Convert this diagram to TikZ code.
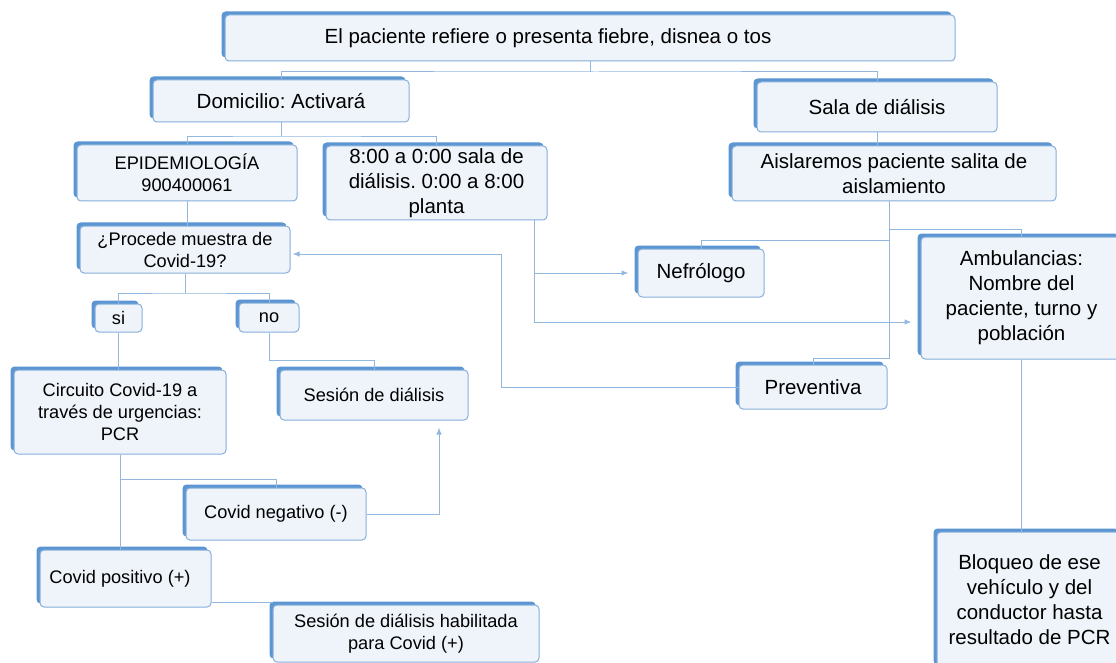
\documentclass[tikz,border=0pt]{standalone}
\usepackage{fontspec}
\setmainfont{Liberation Sans}
\frenchspacing
\usetikzlibrary{shadows,arrows.meta,calc}
\definecolor{linec}{HTML}{92B8E0}
\definecolor{shadowc}{HTML}{5B96D2}
\definecolor{borderc}{HTML}{86AEDB}
\definecolor{fillc}{HTML}{EEF4FA}
\begin{document}
\frenchspacing
\begin{tikzpicture}[x=1pt,y=-1pt,
 box/.style={draw=borderc, fill=fillc, line width=1pt, rounded corners=4pt, align=center, inner sep=0pt,
   general shadow={shadow xshift=-3.5pt, shadow yshift=3.5pt, fill=shadowc}},
 big/.style={font=\fontsize{20.5}{25}\selectfont},
 sm/.style={font=\fontsize{18.2}{22}\selectfont},
 conn/.style={draw=linec, line width=1pt},
 arr/.style={conn, -{Latex[length=7pt,width=5.5pt]}}]
\useasboundingbox (0,0) rectangle (1116,663);
\fill[white] (0,0) rectangle (1116,663);

\node[box,big,minimum width=730pt,minimum height=46pt] (top) at (590,38) {\hspace*{-84pt}El paciente refiere o presenta fiebre, disnea o tos};
\node[box,big,minimum width=256pt,minimum height=42pt] (dom) at (281,101) {Domicilio: Activará};
\node[box,big,minimum width=240pt,minimum height=50pt] (sala) at (877,107) {Sala de diálisis};
\node[box,sm,minimum width=220pt,minimum height=56pt] (epi) at (187,173) {EPIDEMIOLOGÍA\\900400061};
\node[box,big,minimum width=221pt,minimum height=74pt] (t8) at (436.5,183) {8:00 a 0:00 sala de\\diálisis. 0:00 a 8:00\\planta};
\node[box,sm,minimum width=210pt,minimum height=47pt] (proc) at (185,249.5) {¿Procede muestra de\\Covid-19?};
\node[box,sm,minimum width=47pt,minimum height=28pt] (si) at (118.5,318) {si};
\node[box,sm,minimum width=60pt,minimum height=29pt] (no) at (269,317.5) {no};
\node[box,sm,minimum width=212pt,minimum height=84pt] (circ) at (120,412) {Circuito Covid-19 a\\través de urgencias:\\PCR};
\node[box,sm,minimum width=188pt,minimum height=50pt] (ses) at (374,395) {Sesión de diálisis};
\node[box,sm,minimum width=180pt,minimum height=52pt] (neg) at (276,514) {Covid negativo (-)};
\node[box,sm,minimum width=171pt,minimum height=57pt] (pos) at (125.5,578.5) {\hspace*{-11pt}Covid positivo (+)};
\node[box,sm,minimum width=266pt,minimum height=57pt] (hab) at (406,633.5) {Sesión de diálisis habilitada\\para Covid (+)};
\node[box,big,minimum width=126pt,minimum height=48pt] (nef) at (701,273) {Nefrólogo};
\node[box,big,minimum width=324pt,minimum height=55pt] (aisl) at (894,173.5) {Aislaremos paciente salita de\\aislamiento};
\node[box,big,minimum width=201pt,minimum height=122pt] (amb) at (1021.5,298) {Ambulancias:\\Nombre del\\paciente, turno y\\población};
\node[box,big,minimum width=148pt,minimum height=44pt] (prev) at (813,387) {Preventiva};
\node[box,big,minimum width=185pt,minimum height=136pt] (bloq) at (1029.5,600) {Bloqueo de ese\\vehículo y del\\conductor hasta\\resultado de PCR};

% connectors
\coordinate (r1) at (596,72);
\draw[conn] (top.south) -- (top.south |- r1);
\draw[conn] (dom.north) |- (r1) -| (sala.north);
\coordinate (r2) at (281,137);
\draw[conn] (dom.south) -- (r2);
\draw[conn] (epi.north) |- (r2) -| (t8.north);
\draw[conn] (epi.south) -- (epi.south |- proc.north);
\coordinate (r3) at (185,293);
\draw[conn] (proc.south) -- (r3);
\draw[conn] (si.north) |- (r3) -| (no.north);
\draw[conn] (si.south) -- (si.south |- circ.north);
\coordinate (r4) at (269,360);
\draw[conn] (no.south) -- (r4) -| (ses.north);
\draw[conn] (circ.south) -- (circ.south |- pos.north);
\coordinate (r5) at (120,479);
\draw[conn] (r5) -| (neg.north);
\draw[conn] ([yshift=5pt]pos.south east) -- ([yshift=5pt]pos.south east -| hab.west);
\draw[arr, shorten >=7pt] (neg.east) -| ([xshift=65pt]ses.south);
\coordinate (c8) at (534,322);
\draw[conn] (t8.south -| c8) -- (c8);
\draw[arr, shorten >=9pt] (c8) -- (c8 -| amb.west);
\draw[arr, shorten >=9pt] (c8 |- nef.west) -- (nef.west);
\coordinate (cp) at (501,254);
\draw[arr, shorten >=2pt] (prev.west) -| (cp) -- (cp -| proc.east);
\draw[conn] (sala.south) -- (sala.south |- aisl.north);
\coordinate (ra) at (889,358);
\draw[conn] (aisl.south -| ra) -- (ra) -| (prev.north);
\coordinate (rb) at (889,229);
\draw[conn] (rb) -| (amb.north);
\coordinate (rc) at (889,240);
\draw[conn] (rc) -| (nef.north);
\draw[conn] (amb.south) -- (amb.south |- bloq.north);
\end{tikzpicture}
\end{document}
